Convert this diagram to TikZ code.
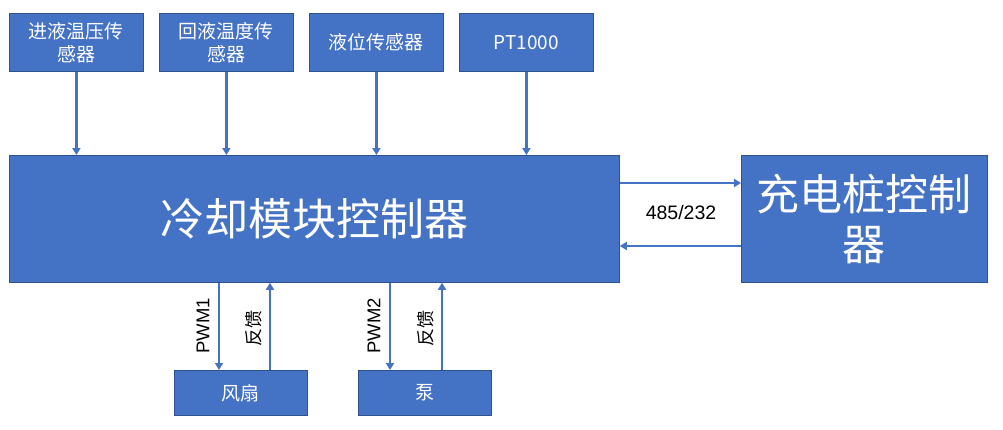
\documentclass[tikz,border=0pt]{standalone}
\usepackage{fontspec}
\setmainfont{Noto Sans CJK SC}
\newfontfamily\latinfont{Liberation Sans}
\usetikzlibrary{arrows.meta}
\definecolor{boxblue}{HTML}{4472C4}
\definecolor{boxedge}{HTML}{2F528F}
\begin{document}
\begin{tikzpicture}[x=1pt,y=-1pt,
 box/.style={draw=boxedge, line width=0.8pt, fill=boxblue, text=white, inner sep=0pt, align=center, anchor=north west},
 sensor/.style={box, minimum width=134pt, minimum height=58pt, font=\fontsize{19}{23}\selectfont},
 actuator/.style={box, minimum width=133pt, minimum height=45pt, font=\fontsize{19}{23}\selectfont},
 arr/.style={draw=boxblue, line width=2.5pt, -{Triangle[length=7pt,width=8pt]}},
 lbl/.style={text=black, inner sep=0pt, font=\latinfont\fontsize{18.5}{20}\selectfont},
 cjklbl/.style={text=black, inner sep=0pt, font=\fontsize{18}{20}\selectfont},
]
\useasboundingbox (0,0) rectangle (1003,429);
\node[sensor] (s1) at (9,13) {进液温压传\\感器};
\node[sensor] (s2) at (159,13) {回液温度传\\感器};
\node[sensor] (s3) at (309,13) {液位传感器};
\node[sensor] (s4) at (459,13) {PT1000};
\node[box, minimum width=610pt, minimum height=127pt, font=\fontsize{44}{50}\selectfont] (main) at (9,155) {冷却模块控制器};
\node[box, minimum width=246pt, minimum height=127pt, font=\fontsize{43}{50}\selectfont] (right) at (741,155) {充电桩控制\\器};
\node[actuator] (fan) at (174,370) {风扇};
\node[actuator] (pump) at (358,370) {泵};

\foreach \s in {s1,s2,s3,s4} \draw[arr] (\s.south) -- (\s.south |- main.north);

\coordinate (h1) at (0,183);
\coordinate (h2) at (0,246);
\draw[arr] (main.east |- h1) -- (right.west |- h1);
\draw[arr] (right.west |- h2) -- (main.east |- h2);
\node[lbl, font=\latinfont\fontsize{19.5}{21}\selectfont] (bus) at (681,213) {485/232};

\coordinate (v1) at (219,0);
\coordinate (v2) at (270,0);
\coordinate (v3) at (390,0);
\coordinate (v4) at (442,0);
\draw[arr] (v1 |- main.south) -- (v1 |- fan.north);
\draw[arr] (v2 |- fan.north) -- (v2 |- main.south);
\draw[arr] (v3 |- main.south) -- (v3 |- pump.north);
\draw[arr] (v4 |- pump.north) -- (v4 |- main.south);
\node[lbl, rotate=90] (l1) at (203,326) {PWM1};
\node[cjklbl, rotate=90] (l2) at (254,328) {反馈};
\node[lbl, rotate=90] (l3) at (374,326) {PWM2};
\node[cjklbl, rotate=90] (l4) at (426,328) {反馈};
\end{tikzpicture}
\end{document}
